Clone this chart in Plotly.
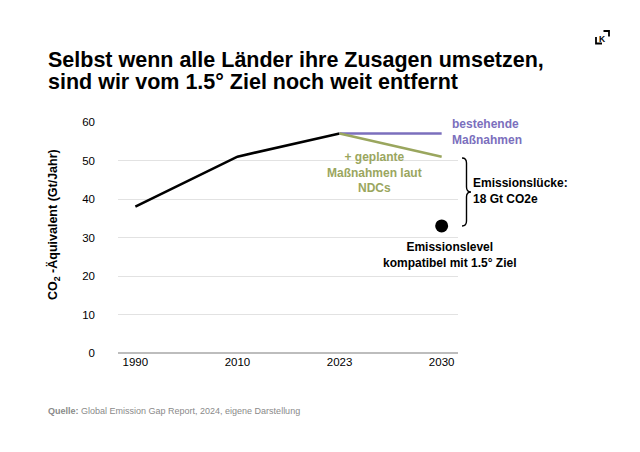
import plotly.graph_objects as go

# Data (Gt CO2e per year)
years = ['1990', '2010', '2023', '2030']
historic = [38, 51, 57]            # 1990, 2010, 2023
current_policy = [57, 57]          # 2023 -> 2030 bestehende Maßnahmen
ndc_policy = [57, 51]              # 2023 -> 2030 + geplante Maßnahmen (NDCs)
target_15 = 33                     # 2030 kompatibel mit 1.5°
y_ticks = [0, 10, 20, 30, 40, 50, 60]

PURPLE = '#7b6fbd'
GREEN = '#9aa65e'
FONT = 'Liberation Sans'

# page has an 8px body margin, so work in screen pixels and shift
OFF = 8
W, H = 640, 452
left, right, top, bottom = 118, 458, 122, 353   # plot area on screen
L, T = left - OFF, top - OFF
R, B = W + OFF - right, H + OFF - bottom
pw, ph = right - left, bottom - top
ymax = 60


def px(x):
    return (x - left) / pw


def py(y):
    return (bottom - y) / ph


fig = go.Figure()

fig.add_trace(go.Scatter(x=years[:3], y=historic, mode='lines',
                         line=dict(color='black', width=2.6)))
fig.add_trace(go.Scatter(x=years[2:], y=current_policy, mode='lines',
                         line=dict(color=PURPLE, width=2.6)))
fig.add_trace(go.Scatter(x=years[2:], y=ndc_policy, mode='lines',
                         line=dict(color=GREEN, width=2.6)))
fig.add_trace(go.Scatter(x=[years[3]], y=[target_15], mode='markers',
                         marker=dict(color='black', size=13)))

# curly brace between NDC value and 1.5° level
gap = ndc_policy[-1] - target_15
yt = ndc_policy[-1] / ymax - 0.006
yb = target_15 / ymax
ym = (yt + yb) / 2
x0, x1, x2 = px(462), px(466.5), px(471)
d = 5 / ph
brace = (f'M {x0},{yt} Q {x1},{yt} {x1},{yt - d} L {x1},{ym + d} '
         f'Q {x1},{ym} {x2},{ym} Q {x1},{ym} {x1},{ym - d} '
         f'L {x1},{yb + d} Q {x1},{yb} {x0},{yb}')
fig.add_shape(type='path', path=brace, xref='x domain', yref='y domain',
              line=dict(color='black', width=1.4))

# logo in the corner
fig.add_shape(type='path', xref='paper', yref='paper',
              path=f'M {px(596)},{py(37)} L {px(596)},{py(43.5)} L {px(602)},{py(43.5)}',
              line=dict(color='black', width=1.8))
fig.add_shape(type='path', xref='paper', yref='paper',
              path=f'M {px(603.5)},{py(31)} L {px(609)},{py(31)} L {px(609)},{py(36.5)}',
              line=dict(color='black', width=1.8))

i2030 = years.index('2030')
annotations = [
    dict(x=px(46), y=py(46), xref='paper', yref='paper', xanchor='left', yanchor='top',
         text='<b>Selbst wenn alle Länder ihre Zusagen umsetzen,</b>',
         font=dict(size=21.5, color='black'), showarrow=False),
    dict(x=px(46), y=py(68), xref='paper', yref='paper', xanchor='left', yanchor='top',
         text='<b>sind wir vom 1.5° Ziel noch weit entfernt</b>',
         font=dict(size=21.5, color='black'), showarrow=False),
    dict(x=px(53), y=py(225), xref='paper', yref='paper', textangle=-90,
         xanchor='center', yanchor='middle',
         text='<b>CO<sub>2</sub> -Äquivalent (Gt/Jahr)</b>',
         font=dict(size=12.5, color='black'), showarrow=False),
    dict(x=px(602.5), y=py(38.5), xref='paper', yref='paper', text='<b>K</b>',
         xanchor='center', yanchor='middle',
         font=dict(size=8.5, color='black'), showarrow=False),
    dict(x=i2030, y=current_policy[-1], xref='x', yref='y', xanchor='left',
         yanchor='middle', xshift=8, yshift=2, align='left',
         text='<b>bestehende<br>Maßnahmen</b>',
         font=dict(size=12, color=PURPLE), showarrow=False),
    dict(x=2.34, y=47, xref='x', yref='y', align='center',
         text='<b>+ geplante<br>Maßnahmen laut<br>NDCs</b>',
         font=dict(size=12, color=GREEN), showarrow=False),
    dict(x=px(471), y=(ndc_policy[-1] + target_15) / 2, xref='paper', yref='y',
         xanchor='left', yanchor='middle', align='left',
         text=f'<b>Emissionslücke:<br>{gap} Gt CO2e</b>',
         font=dict(size=12, color='black'), showarrow=False),
    dict(x=i2030, y=target_15, xref='x', yref='y', xanchor='center',
         yanchor='top', xshift=8, yshift=-12, align='center',
         text='<b>Emissionslevel<br>kompatibel mit 1.5° Ziel</b>',
         font=dict(size=12, color='black'), showarrow=False),
    dict(x=px(46), y=py(404), xref='paper', yref='paper',
         xanchor='left', yanchor='top', align='left',
         text='<b>Quelle:</b> Global Emission Gap Report, 2024, eigene Darstellung',
         font=dict(size=9, color='#8a8a8a'), showarrow=False),
]

fig.update_layout(
    width=W, height=H,
    margin=dict(l=L, r=R, t=T, b=B),
    paper_bgcolor='white', plot_bgcolor='white',
    font=dict(family=FONT, color='black', size=11),
    showlegend=False,
    hovermode=False,
    annotations=annotations,
    xaxis=dict(type='category', categoryorder='array', categoryarray=years,
               range=[-0.17, 3.16], showgrid=False, showline=False,
               ticks='', tickfont=dict(size=11.5)),
    yaxis=dict(range=[0, ymax], tickvals=y_ticks, showgrid=True,
               gridcolor='#e2e2e2', gridwidth=1.3, zeroline=True,
               zerolinecolor='#bdbdbd', zerolinewidth=2.2, showline=False,
               ticks='', ticklabelstandoff=22, tickfont=dict(size=11.5)),
)

fig.write_html('out.html')
